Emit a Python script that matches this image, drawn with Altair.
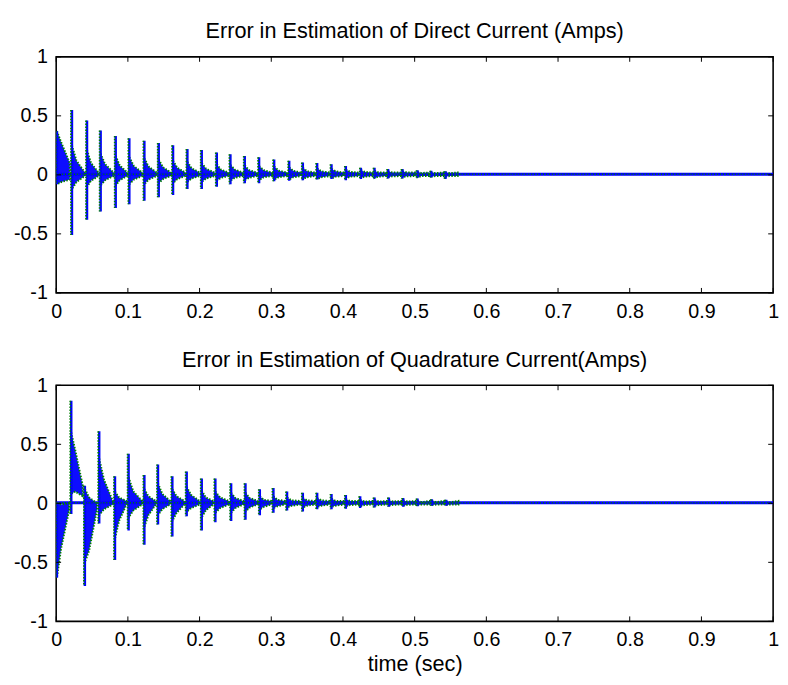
import altair as alt
import pandas as pd

# ---------------- data ----------------
x_ticks = [0, 0.1, 0.2, 0.3, 0.4, 0.5, 0.6, 0.7, 0.8, 0.9, 1]
y_ticks = [-1, -0.5, 0, 0.5, 1]

# Direct current error: spike times, spike extremes, burst envelope (start/mid/end)
d_t = [0.001, 0.022, 0.043, 0.062, 0.083, 0.102, 0.123, 0.143, 0.163, 0.183,
       0.203, 0.224, 0.243, 0.263, 0.283, 0.304, 0.325, 0.344, 0.364, 0.384,
       0.404, 0.425, 0.444, 0.463, 0.483, 0.504, 0.523, 0.543]
d_hi = [0.37, 0.55, 0.46, 0.375, 0.33, 0.31, 0.29, 0.27, 0.25, 0.22,
        0.21, 0.19, 0.175, 0.16, 0.15, 0.13, 0.12, 0.105, 0.10, 0.09,
        0.075, 0.06, 0.06, 0.05, 0.05, 0.04, 0.035, 0.03]
d_lo = [-0.08, -0.51, -0.38, -0.31, -0.28, -0.25, -0.22, -0.19, -0.17, -0.12,
        -0.12, -0.10, -0.08, -0.07, -0.07, -0.055, -0.05, -0.045, -0.04, -0.035,
        -0.045, -0.035, -0.03, -0.03, -0.03, -0.025, -0.02, -0.035]
d_band_hi = [0.37, 0.25, 0.21, 0.18, 0.16, 0.15, 0.14, 0.13, 0.12, 0.11,
             0.10, 0.09, 0.085, 0.08, 0.075, 0.07, 0.065, 0.06, 0.055, 0.05,
             0.045, 0.04, 0.035, 0.03, 0.03, 0.025, 0.02, 0.02]
d_band_lo = [-0.08, -0.12, -0.10, -0.09, -0.09, -0.08, -0.08, -0.07, -0.07, -0.06,
             -0.06, -0.05, -0.05, -0.045, -0.045, -0.04, -0.04, -0.035, -0.035, -0.03,
             -0.03, -0.025, -0.025, -0.02, -0.02, -0.02, -0.015, -0.015]
d_mid_hi = [0.27, 0.12, 0.10, 0.09, 0.08, 0.075, 0.07, 0.065, 0.06, 0.055,
            0.05, 0.045, 0.045, 0.04, 0.04, 0.035, 0.035, 0.03, 0.03, 0.03,
            0.025, 0.025, 0.02, 0.02, 0.02, 0.015, 0.015, 0.015]
d_mid_lo = [-0.06, -0.06, -0.05, -0.045, -0.045, -0.04, -0.04, -0.035, -0.035, -0.03,
            -0.03, -0.025, -0.025, -0.025, -0.02, -0.02, -0.02, -0.02, -0.02, -0.015,
            -0.015, -0.015, -0.015, -0.012, -0.012, -0.01, -0.01, -0.01]
d_end_hi = [0.10] + [0.02] * 27
d_end_lo = [-0.04] + [-0.01] * 27

# Quadrature current error
q_t = [0.001, 0.021, 0.040, 0.060, 0.082, 0.101, 0.123, 0.142, 0.162, 0.182,
       0.203, 0.222, 0.244, 0.264, 0.284, 0.303, 0.322, 0.344, 0.364, 0.384,
       0.404, 0.424, 0.444, 0.464, 0.484, 0.504, 0.524, 0.544]
q_hi = [0.0, 0.87, 0.15, 0.61, 0.23, 0.42, 0.24, 0.33, 0.23, 0.27,
        0.21, 0.21, 0.17, 0.17, 0.12, 0.13, 0.10, 0.09, 0.09, 0.08,
        0.07, 0.06, 0.05, 0.05, 0.045, 0.04, 0.035, 0.03]
q_lo = [-0.63, -0.09, -0.70, -0.17, -0.48, -0.23, -0.35, -0.18, -0.28, -0.11,
        -0.23, -0.16, -0.15, -0.14, -0.10, -0.08, -0.06, -0.07, -0.05, -0.05,
        -0.045, -0.04, -0.035, -0.03, -0.03, -0.025, -0.02, -0.02]
q_band_hi = [0.0, 0.6, 0.12, 0.38, 0.1, 0.22, 0.12, 0.17, 0.12, 0.14,
             0.11, 0.1, 0.09, 0.09, 0.06, 0.06, 0.05, 0.045, 0.045, 0.04,
             0.035, 0.03, 0.03, 0.025, 0.025, 0.02, 0.02, 0.015]
q_band_lo = [-0.63, 0.08, -0.5, -0.1, -0.3, -0.12, -0.2, -0.1, -0.15, -0.07,
             -0.12, -0.08, -0.08, -0.07, -0.05, -0.04, -0.035, -0.035, -0.03, -0.03,
             -0.025, -0.025, -0.02, -0.02, -0.02, -0.015, -0.015, -0.015]
q_mid_hi = [-0.01, 0.45, 0.05, 0.2, 0.05, 0.1, 0.06, 0.08, 0.06, 0.07,
            0.05, 0.05, 0.045, 0.045, 0.03, 0.03, 0.025, 0.025, 0.025, 0.02,
            0.02, 0.015, 0.015, 0.015, 0.015, 0.01, 0.01, 0.01]
q_mid_lo = [-0.38, 0.1, -0.4, -0.05, -0.15, -0.06, -0.1, -0.05, -0.08, -0.04,
            -0.06, -0.04, -0.04, -0.035, -0.03, -0.025, -0.02, -0.02, -0.02, -0.02,
            -0.015, -0.015, -0.015, -0.012, -0.012, -0.01, -0.01, -0.01]
q_end_hi = [0.0, 0.15, 0.0] + [0.02] * 25
q_end_lo = [-0.06, 0.06, -0.05] + [-0.01] * 25

base_t = [0, 1]
base_y = [0.005, 0.005]

# ---------------- chart ----------------
W, H = 729, 240
FONT = "Liberation Sans"
BLUE = "#0000ff"
GREEN = "#008000"
LABEL_SIZE = 20
TITLE_SIZE = 22

xs = alt.Scale(domain=[0, 1], nice=False, zero=False)
ys = alt.Scale(domain=[-1, 1], nice=False, zero=False)


def panel(title, st, shi, slo, bhi, blo, mhi, mlo, ehi, elo, xtitle=None):
    spikes = pd.DataFrame({"t": st, "hi": shi, "lo": slo})
    rows = []
    for i, t in enumerate(st):
        t_end = st[i + 1] - 0.003 if i + 1 < len(st) else t + 0.017
        t_mid = t + 0.35 * (t_end - t)
        rows.append({"burst": i, "t": t, "hi": bhi[i], "lo": blo[i]})
        rows.append({"burst": i, "t": t_mid, "hi": mhi[i], "lo": mlo[i]})
        rows.append({"burst": i, "t": t_end, "hi": ehi[i], "lo": elo[i]})
    bands = pd.DataFrame(rows)
    base = pd.DataFrame({"t": base_t, "y": base_y})
    xt = pd.DataFrame({"v": x_ticks})
    yt = pd.DataFrame({"v": y_ticks})

    xaxis = alt.Axis(values=x_ticks, labelExpr="'' + datum.value", ticks=False,
                     grid=False, domain=False, labelFontSize=LABEL_SIZE,
                     labelFont=FONT, labelColor="black", labelPadding=9,
                     labelFlush=False, title=xtitle, titleFontSize=TITLE_SIZE,
                     titleFont=FONT, titleFontWeight="normal", titleColor="black",
                     titlePadding=4)
    yaxis = alt.Axis(values=y_ticks, labelExpr="'' + datum.value", ticks=False,
                     grid=False, domain=False, labelFontSize=LABEL_SIZE,
                     labelFont=FONT, labelColor="black", labelPadding=9,
                     labelFlush=False, title=None)

    def X(f):
        return alt.X(f, scale=xs, axis=xaxis)

    def Y(f):
        return alt.Y(f, scale=ys, axis=yaxis)

    base_line = alt.Chart(base).mark_line(color=BLUE, strokeWidth=3, clip=True).encode(
        x=X("t:Q"), y=Y("y:Q"))
    base_green = alt.Chart(base).mark_line(color=GREEN, strokeWidth=1.5,
                                           strokeDash=[1, 2], clip=True).encode(
        x=X("t:Q"), y=Y("y:Q"))
    band = alt.Chart(bands).mark_area(color=BLUE, opacity=0.95, clip=True).encode(
        x=X("t:Q"), y=Y("hi:Q"), y2="lo:Q", detail="burst:N")
    band_green = alt.Chart(bands).mark_area(fill=None, stroke=GREEN, strokeWidth=2,
                                            strokeDash=[1.5, 1.5], clip=True).encode(
        x=X("t:Q"), y=Y("hi:Q"), y2="lo:Q", detail="burst:N")
    spike = alt.Chart(spikes).mark_rule(color=BLUE, strokeWidth=2.5, clip=True).encode(
        x=X("t:Q"), y=Y("hi:Q"), y2="lo:Q")
    spike_g = alt.Chart(spikes).mark_rule(color=GREEN, strokeWidth=1.8, xOffset=-1,
                                          strokeDash=[1.5, 1.5], clip=True).encode(
        x=X("t:Q"), y=Y("hi:Q"), y2="lo:Q")

    tb = alt.Chart(xt).mark_rule(color="black").encode(
        x=X("v:Q"), y=alt.value(H), y2=alt.value(H - 5))
    tt = alt.Chart(xt).mark_rule(color="black").encode(
        x=X("v:Q"), y=alt.value(0), y2=alt.value(5))
    tl = alt.Chart(yt).mark_rule(color="black").encode(
        y=Y("v:Q"), x=alt.value(0), x2=alt.value(5))
    tr = alt.Chart(yt).mark_rule(color="black").encode(
        y=Y("v:Q"), x=alt.value(W), x2=alt.value(W - 5))

    return alt.layer(base_line, band, base_green, band_green, spike, spike_g,
                     tb, tt, tl, tr).properties(
        width=W, height=H,
        title=alt.TitleParams(title, fontSize=TITLE_SIZE, font=FONT,
                              fontWeight="normal", color="black", offset=4))


top = panel("Error in Estimation of Direct Current (Amps)",
            d_t, d_hi, d_lo, d_band_hi, d_band_lo, d_mid_hi, d_mid_lo,
            d_end_hi, d_end_lo)
bottom = panel("Error in Estimation of Quadrature Current(Amps)",
               q_t, q_hi, q_lo, q_band_hi, q_band_lo, q_mid_hi, q_mid_lo,
               q_end_hi, q_end_lo, xtitle="time (sec)")

chart = alt.vconcat(top, bottom, spacing=26).properties(
    padding={"left": 4, "top": 6, "right": 0, "bottom": 1}
).configure_view(stroke="black", strokeWidth=1.6)

chart.save("out.html", embed_options={"renderer": "svg", "actions": False})
